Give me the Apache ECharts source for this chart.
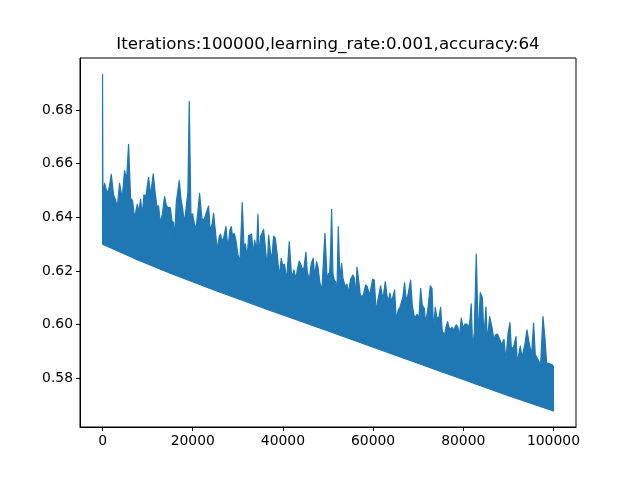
<!DOCTYPE html>
<html>
<head>
<meta charset="utf-8">
<script src="https://cdn.jsdelivr.net/npm/echarts@6/dist/echarts.min.js"></script>
<style>html,body{margin:0;padding:0;background:#fff}#c{width:640px;height:480px}</style>
</head>
<body>
<div id="c"></div>
<script>
const titleText = 'Iterations:100000,learning_rate:0.001,accuracy:64';
const xTicks = [0, 20000, 40000, 60000, 80000, 100000];
const yTicks = [0.58, 0.60, 0.62, 0.64, 0.66, 0.68];

// upper envelope of the oscillating loss curve
const upperX = [
 0, 81, 451, 1042, 1486, 1929, 2447, 2891, 3260, 3778, 4369, 4887, 5330, 5774, 6217, 6661, 7031, 7326, 7696, 8066,
 8435, 8805, 9175, 9618, 10210, 10653, 11244, 11688, 12058, 12428, 12797, 13241, 13758, 14128, 14498, 15015, 15385, 15755, 15977, 16346,
 17012, 17381, 17751, 18120, 18490, 18934, 19230, 19599, 19969, 20338, 20708, 21152, 21521, 22039, 22483, 22852, 23518, 23887, 24331, 24626,
 25145, 25440, 25884, 26180, 26475, 26919, 27363, 27806, 28250, 28545, 28841, 29211, 29580, 30024, 30468, 30985, 31355, 31650, 32094, 32390,
 32685, 33055, 33425, 33720, 34164, 34460, 34756, 35051, 35717, 36086, 36530, 36825, 37269, 37565, 37934, 38304, 38748, 39191, 39635, 39931,
 40374, 40818, 41409, 41853, 42149, 42444, 42888, 43184, 43627, 43923, 44366, 44662, 45106, 45401, 45845, 46289, 46732, 47028, 47471, 47767,
 48211, 48654, 49320, 49837, 50133,
 50356, 50578, 50799, 51095, 51391, 51687, 51982, 52278, 52648, 53017, 53313, 53609, 53905, 54200, 54496, 55013, 55531, 55827, 56122, 56418,
 56714, 57157, 57601, 57897, 58340, 58710, 59227, 59893, 60263, 60706, 61002, 61667, 62185, 62702, 63072, 63368, 63737, 64107, 64772, 65142,
 65586, 65881, 66177, 66621, 66990, 67360, 67803, 68321, 68691, 69134, 69430, 69726, 70169, 70543, 70909, 71352, 71648, 72165, 72683, 73053,
 73422, 73792, 74162, 74605, 74975, 75344, 75640,
 75789, 76159, 76528, 76898, 77194, 77489, 77859, 78450, 78820, 79116, 79559, 80003, 80373, 80816, 81186, 81482, 81777, 82073, 82443, 82886,
 83330, 83773, 84217, 84587, 85030, 85326, 85843, 86361, 86805, 87100, 87544, 87840, 88135, 88505, 89022, 89466, 89910, 90353, 90649, 91092,
 91684, 91979, 92645, 93015, 93680, 94124, 94493, 94789, 95160, 95602, 95972, 96415, 96711, 97155, 97672, 98116, 98485, 98781, 99299, 99742,
 100000
];
const upperY = [
 0.6932, 0.6477, 0.6527, 0.6489, 0.6512, 0.6560, 0.6483, 0.6465, 0.6434, 0.6527, 0.6471, 0.6574, 0.6539, 0.6672, 0.6471, 0.6462, 0.6405, 0.6417, 0.6448, 0.6421,
 0.6467, 0.6409, 0.6483, 0.6480, 0.6549, 0.6483, 0.6562, 0.6489, 0.6440, 0.6443, 0.6380, 0.6409, 0.6477, 0.6446, 0.6436, 0.6436, 0.6388, 0.6380, 0.6316, 0.6455,
 0.6537, 0.6471, 0.6434, 0.6380, 0.6427, 0.6496, 0.6832, 0.6409, 0.6413, 0.6378, 0.6355, 0.6421, 0.6489, 0.6396, 0.6390, 0.6409, 0.6442, 0.6347, 0.6378, 0.6415,
 0.6328, 0.6278, 0.6328, 0.6337, 0.6309, 0.6328, 0.6365, 0.6284, 0.6353, 0.6365, 0.6328, 0.6340, 0.6315, 0.6260, 0.6235, 0.6455, 0.6291, 0.6301, 0.6253, 0.6332,
 0.6334, 0.6338, 0.6260, 0.6315, 0.6278, 0.6412, 0.6247, 0.6328, 0.6355, 0.6291, 0.6210, 0.6334, 0.6266, 0.6247, 0.6330, 0.6322, 0.6260, 0.6179, 0.6247, 0.6222,
 0.6225, 0.6166, 0.6309, 0.6197, 0.6179, 0.6204, 0.6169, 0.6204, 0.6237, 0.6226, 0.6206, 0.6210, 0.6270, 0.6197, 0.6166, 0.6228, 0.6247, 0.6179, 0.6235, 0.6216,
 0.6154, 0.6129, 0.6340, 0.6160, 0.6191,
 0.6191, 0.6272, 0.6430, 0.6191, 0.6166, 0.6160, 0.6117, 0.6365, 0.6166, 0.6228, 0.6173, 0.6154, 0.6141, 0.6151, 0.6117, 0.6169, 0.6185, 0.6173, 0.6104, 0.6214,
 0.6179, 0.6110, 0.6104, 0.6114, 0.6148, 0.6141, 0.6110, 0.6169, 0.6166, 0.6045, 0.6086, 0.6144, 0.6094, 0.6160, 0.6110, 0.6086, 0.6117, 0.6086, 0.6129, 0.6017,
 0.6055, 0.6061, 0.6077, 0.6104, 0.6156, 0.6086, 0.6117, 0.6166, 0.6073, 0.6030, 0.6030, 0.6038, 0.6024, 0.6135, 0.6073, 0.6061, 0.6005, 0.6061, 0.6144, 0.6135,
 0.5980, 0.6064, 0.6024, 0.6027, 0.6064, 0.5974, 0.5968,
 0.5955, 0.5990, 0.6011, 0.5986, 0.5983, 0.5990, 0.5980, 0.5999, 0.5990, 0.5953, 0.6024, 0.5986, 0.6002, 0.6002, 0.5986, 0.6017, 0.6077, 0.5912, 0.5970, 0.6263,
 0.5955, 0.6119, 0.6102, 0.5955, 0.6065, 0.5937, 0.6030, 0.5990, 0.5943, 0.5961, 0.5965, 0.5955, 0.5943, 0.5924, 0.5945, 0.5868, 0.5965, 0.6007, 0.5915, 0.5912,
 0.5955, 0.5858, 0.5920, 0.5878, 0.5928, 0.5980, 0.5943, 0.5915, 0.5891, 0.6005, 0.5887, 0.5875, 0.5866, 0.5850, 0.6030, 0.5949, 0.5856, 0.5856, 0.5853, 0.5850,
 0.5843
];
// lower edge of the band
const lowerX = [0, 2000, 7000, 15000, 25000, 37000, 50000, 60000, 75000, 90000, 100000];
const lowerY = [0.6300, 0.6285, 0.6247, 0.6192, 0.6127, 0.6054, 0.5976, 0.5916, 0.5825, 0.5735, 0.5678];

const COLOR = '#1f77b4';
const FONT = 'DejaVu Sans';

const chart = echarts.init(document.getElementById('c'), null, {renderer: 'canvas'});

function renderBand(params, api) {
  const pts = [];
  for (let i = 0; i < upperX.length; i++) pts.push(api.coord([upperX[i], upperY[i]]));
  for (let i = lowerX.length - 1; i >= 0; i--) pts.push(api.coord([lowerX[i], lowerY[i]]));
  return {
    type: 'polygon',
    shape: {points: pts},
    style: {fill: COLOR, stroke: COLOR, lineWidth: 1.2, lineJoin: 'round'}
  };
}

const axisCommon = {
  splitLine: {show: false},
  axisLine: {show: true, onZero: false, lineStyle: {color: '#000', width: 1}},
  axisTick: {show: true, length: 4, inside: false, lineStyle: {color: '#000', width: 1}},
  axisLabel: {color: '#000', fontFamily: FONT, fontSize: 13.9, margin: 7}
};

chart.setOption({
  animation: false,
  backgroundColor: '#fff',
  title: {
    text: titleText,
    left: 323, top: 31, textAlign: 'center',
    textStyle: {fontFamily: FONT, fontSize: 16.67, fontWeight: 'normal', color: '#000'}
  },
  grid: {left: 80, right: 64, top: 58, bottom: 53, show: true, borderColor: '#000', borderWidth: 1, backgroundColor: 'transparent'},
  xAxis: Object.assign({}, axisCommon, {
    type: 'value', min: -5000, max: 105000,
    axisTick: Object.assign({}, axisCommon.axisTick, {customValues: xTicks}),
    axisLabel: Object.assign({}, axisCommon.axisLabel, {customValues: xTicks, formatter: v => String(v)})
  }),
  yAxis: Object.assign({}, axisCommon, {
    type: 'value', min: 0.5618, max: 0.6994,
    axisTick: Object.assign({}, axisCommon.axisTick, {customValues: yTicks}),
    axisLabel: Object.assign({}, axisCommon.axisLabel, {customValues: yTicks, formatter: v => v.toFixed(2)})
  }),
  series: [{
    type: 'custom',
    silent: true,
    clip: true,
    renderItem: renderBand,
    data: [[0, 0.6]]
  }]
});
</script>
</body>
</html>
